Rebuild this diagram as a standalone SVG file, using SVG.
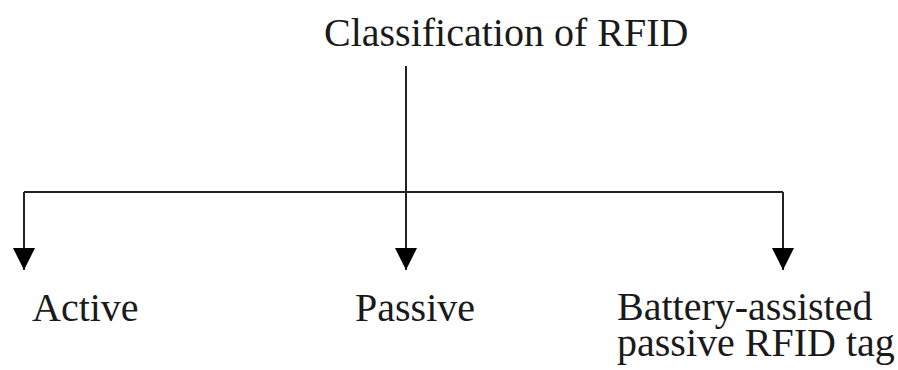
<svg xmlns="http://www.w3.org/2000/svg" width="898" height="370" viewBox="0 0 898 370">
<style>
text{font-family:"Liberation Serif","Times New Roman",serif;font-size:40px;fill:#1a1a1a}
.ln{stroke:#222;stroke-width:2;fill:none}
</style>
<defs>
<marker id="ah" markerWidth="22" markerHeight="22" refX="11" refY="22" orient="0" markerUnits="userSpaceOnUse">
<path d="M0,0 L22,0 L11,22 Z" fill="#000"/>
</marker>
</defs>
<rect width="898" height="370" fill="#fff"/>
<g id="root"><text x="324" y="46">Classification of RFID</text></g>
<g id="connectors">
<line class="ln" x1="406" y1="66" x2="406" y2="192"/>
<line class="ln" x1="24" y1="192" x2="783" y2="192"/>
<line class="ln" x1="24" y1="192" x2="24" y2="270" marker-end="url(#ah)"/>
<line class="ln" x1="406" y1="192" x2="406" y2="270" marker-end="url(#ah)"/>
<line class="ln" x1="783" y1="192" x2="783" y2="270" marker-end="url(#ah)"/>
</g>
<g id="active"><text x="32" y="321">Active</text></g>
<g id="passive"><text x="355" y="321">Passive</text></g>
<g id="bap"><text x="617" y="320">Battery-assisted</text><text x="617" y="356">passive RFID tag</text></g>
</svg>
